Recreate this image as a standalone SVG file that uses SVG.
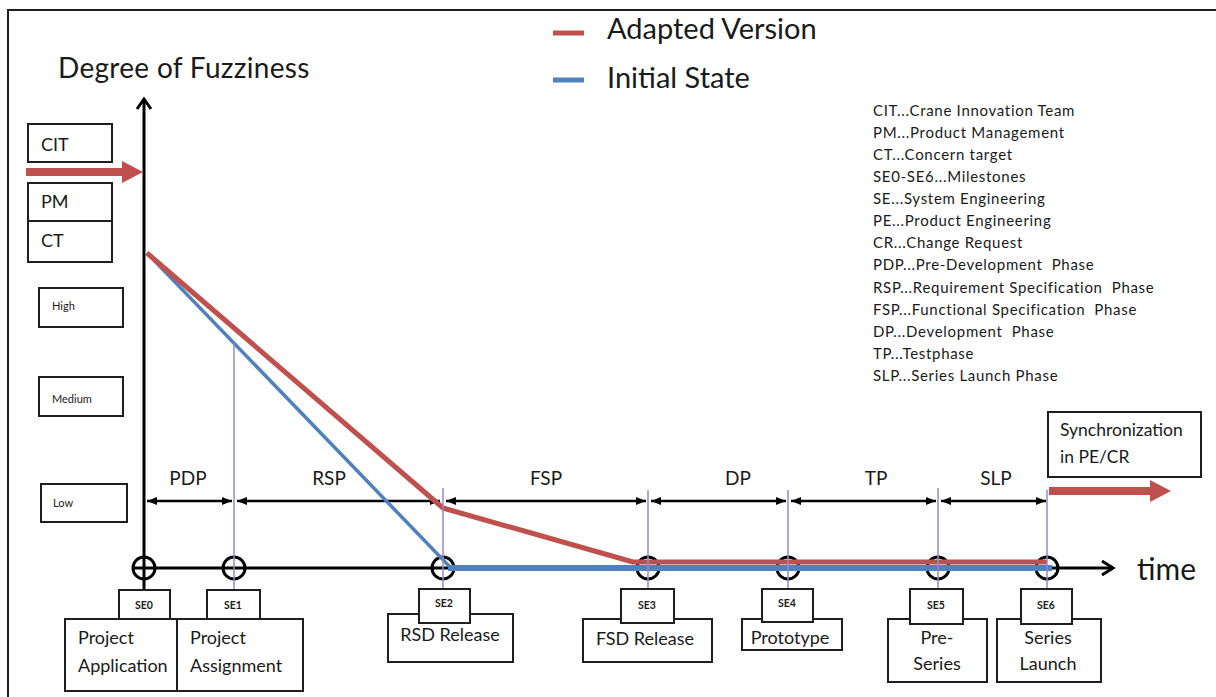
<svg xmlns="http://www.w3.org/2000/svg" width="1216" height="697" viewBox="0 0 1216 697">
<defs>
<style>
.t{font-family:Lato,"Liberation Sans",sans-serif;fill:#1a1a1a}
.box{fill:#fff;stroke:#1e1e1e;stroke-width:2}
.ms{font-size:10.5px;font-weight:bold;text-anchor:middle}
.lbl{font-size:18px}
.mid{text-anchor:middle}
.abbr{font-size:15px;letter-spacing:0.7px}
.lvl{font-size:11px}
.phase{font-size:19px;text-anchor:middle}
.big{font-size:29px}
.vl{stroke:#9b84c9;stroke-width:1.5;fill:none}
.ph{stroke:#000;stroke-width:2.5;fill:none;marker-start:url(#ah);marker-end:url(#ah)}
.mc{fill:none;stroke:#000;stroke-width:3}
.axis{stroke:#000;stroke-width:3;fill:none}
.red{stroke:#c0504d;fill:none;stroke-linejoin:round}
.blue{stroke:#4f81bd;fill:none;stroke-linejoin:round}
</style>
<marker id="ah" viewBox="0 0 10 8" refX="10" refY="4" markerWidth="4" markerHeight="3.2" orient="auto-start-reverse" markerUnits="strokeWidth">
<path d="M0,0 L10,4 L0,8 z" fill="#000"/>
</marker>
</defs>

<!-- outer frame (only top and left edges fall inside the canvas) -->
<rect x="8" y="10" width="1240" height="720" fill="#fff" stroke="#1e1e1e" stroke-width="2"/>

<!-- titles and legend -->
<text class="t" font-size="28" letter-spacing="0.3" x="58" y="78">Degree of Fuzziness</text>
<g id="legend">
<line x1="553" y1="33" x2="584" y2="33" stroke="#c0504d" stroke-width="5"/>
<text class="t big" x="607" y="39">Adapted Version</text>
<line x1="553" y1="80" x2="584" y2="80" stroke="#4f81bd" stroke-width="5"/>
<text class="t big" x="607" y="88">Initial State</text>
</g>
<text class="t" font-size="30" x="1137" y="580">time</text>

<!-- abbreviation list -->
<g id="abbreviations" class="t abbr">
<text x="873" y="116">CIT...Crane Innovation Team</text>
<text x="873" y="138">PM...Product Management</text>
<text x="873" y="160">CT...Concern target</text>
<text x="873" y="182">SE0-SE6...Milestones</text>
<text x="873" y="204">SE...System Engineering</text>
<text x="873" y="226">PE...Product Engineering</text>
<text x="873" y="248">CR...Change Request</text>
<text x="873" y="270">PDP...Pre-Development&#160; Phase</text>
<text x="873" y="293">RSP...Requirement Specification&#160; Phase</text>
<text x="873" y="315">FSP...Functional Specification&#160; Phase</text>
<text x="873" y="337">DP...Development&#160; Phase</text>
<text x="873" y="359">TP...Testphase</text>
<text x="873" y="381">SLP...Series Launch Phase</text>
</g>

<!-- left-hand boxes -->
<g id="cit"><rect class="box" x="28" y="124" width="84" height="38"/><text class="t lbl" x="41" y="151">CIT</text></g>
<g id="pm"><rect class="box" x="28" y="183" width="84" height="38"/><text class="t lbl" x="41" y="208">PM</text></g>
<g id="ct"><rect class="box" x="28" y="221" width="84" height="41"/><text class="t lbl" x="41" y="247">CT</text></g>
<g id="high"><rect class="box" x="39" y="288" width="84" height="39"/><text class="t lvl" x="52" y="310">High</text></g>
<g id="medium"><rect class="box" x="39" y="377" width="84" height="39"/><text class="t lvl" x="52" y="403">Medium</text></g>
<g id="low"><rect class="box" x="41" y="484" width="86" height="38"/><text class="t lvl" x="53" y="507">Low</text></g>

<!-- synchronization box -->
<g id="sync"><rect class="box" x="1048" y="412" width="153" height="65"/>
<text class="t" font-size="17.5" x="1060" y="436">Synchronization</text>
<text class="t" font-size="17.5" x="1060" y="463">in PE/CR</text></g>

<!-- milestone circles -->
<g id="milestone-circles">
<circle class="mc" cx="144" cy="568" r="11"/>
<circle class="mc" cx="234" cy="568" r="11"/>
<circle class="mc" cx="443" cy="568" r="11"/>
<circle class="mc" cx="648" cy="568" r="11"/>
<circle class="mc" cx="788" cy="568" r="11"/>
<circle class="mc" cx="938" cy="568" r="11"/>
<circle class="mc" cx="1047" cy="568" r="11"/>
</g>

<g id="connectors">
<!-- axes -->
<line class="axis" x1="144" y1="590" x2="144" y2="99"/>
<polyline class="axis" points="137,109 144,99 151,109"/>
<line class="axis" x1="133" y1="568" x2="1112" y2="568"/>
<polyline class="axis" points="1102,561 1113,568 1102,575"/>
<!-- phase span arrows -->
<line class="ph" x1="147" y1="501" x2="232" y2="501"/>
<line class="ph" x1="237" y1="501" x2="440" y2="501"/>
<line class="ph" x1="446" y1="501" x2="646" y2="501"/>
<line class="ph" x1="651" y1="501" x2="786" y2="501"/>
<line class="ph" x1="791" y1="501" x2="936" y2="501"/>
<line class="ph" x1="941" y1="501" x2="1046" y2="501"/>
<!-- inbound and outbound arrows -->
<path d="M26,168 H122 V161 L143,172 L122,183 V176 H26 Z" fill="#c0504d"/>
<path d="M1049,487 H1150 V480 L1171,491 L1150,502 V495 H1049 Z" fill="#c0504d"/>
</g>

<!-- fuzziness curves -->
<g id="curves">
<polyline class="blue" stroke-width="3.5" points="147,253 450,567"/>
<line class="blue" stroke-width="6" x1="448" y1="568" x2="1052" y2="568"/>
<polyline class="red" stroke-width="5" points="147,253 443,508 633,562 1047,562"/>
</g>

<!-- milestone guide lines -->
<g id="guides">
<line class="vl" x1="234" y1="343" x2="234" y2="590"/>
<line class="vl" x1="443" y1="488" x2="443" y2="590"/>
<line class="vl" x1="648" y1="490" x2="648" y2="590"/>
<line class="vl" x1="788" y1="490" x2="788" y2="590"/>
<line class="vl" x1="938" y1="488" x2="938" y2="590"/>
<line class="vl" x1="1047" y1="490" x2="1047" y2="590"/>
</g>

<!-- phase labels -->
<g id="phases" class="t phase">
<text x="188" y="485">PDP</text>
<text x="329" y="485">RSP</text>
<text x="546" y="485">FSP</text>
<text x="738" y="485">DP</text>
<text x="876" y="485">TP</text>
<text x="996" y="485">SLP</text>
</g>

<!-- milestone boxes -->
<g id="se0"><rect class="box" x="65" y="619" width="112" height="72"/><rect class="box" x="119" y="590" width="51" height="29"/>
<text class="t ms" x="144" y="609">SE0</text><text class="t lbl" x="78" y="644">Project</text><text class="t lbl" x="78" y="672">Application</text></g>
<g id="se1"><rect class="box" x="177" y="619" width="126" height="72"/><rect class="box" x="207" y="590" width="53" height="29"/>
<text class="t ms" x="233" y="609">SE1</text><text class="t lbl" x="190" y="644">Project</text><text class="t lbl" x="190" y="672">Assignment</text></g>
<g id="se2"><rect class="box" x="388" y="614" width="125" height="48"/><rect class="box" x="419" y="589" width="51" height="34"/>
<text class="t ms" x="444" y="607">SE2</text><text class="t lbl mid" x="450" y="641">RSD Release</text></g>
<g id="se3"><rect class="box" x="583" y="619" width="129" height="43"/><rect class="box" x="621" y="589" width="53" height="34"/>
<text class="t ms" x="647" y="609">SE3</text><text class="t lbl mid" x="645" y="645">FSD Release</text></g>
<g id="se4"><rect class="box" x="742" y="619" width="100" height="31"/><rect class="box" x="762" y="589" width="51" height="33"/>
<text class="t ms" x="787" y="607">SE4</text><text class="t lbl mid" x="790" y="644">Prototype</text></g>
<g id="se5"><rect class="box" x="888" y="619" width="99" height="63"/><rect class="box" x="910" y="589" width="53" height="35"/>
<text class="t ms" x="936" y="609">SE5</text><text class="t lbl mid" x="937" y="644">Pre-</text><text class="t lbl mid" x="937" y="670">Series</text></g>
<g id="se6"><rect class="box" x="997" y="619" width="104" height="63"/><rect class="box" x="1021" y="589" width="51" height="35"/>
<text class="t ms" x="1046" y="609">SE6</text><text class="t lbl mid" x="1048" y="644">Series</text><text class="t lbl mid" x="1048" y="670">Launch</text></g>
</svg>
